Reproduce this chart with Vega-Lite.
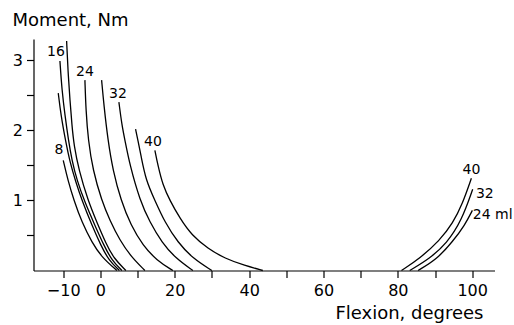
{
  "$schema": "https://vega.github.io/schema/vega-lite/v6.json",
  "width": 461,
  "height": 231.5,
  "autosize": {"type": "none"},
  "padding": {"left": 33.5, "top": 39, "right": 19.5, "bottom": 54.5},
  "background": "white",
  "config": {
    "view": {"stroke": null},
    "font": "DejaVu Sans",
    "axis": {
      "grid": false,
      "domainColor": "black",
      "tickColor": "black",
      "labelColor": "black",
      "titleColor": "black",
      "labelFont": "DejaVu Sans",
      "titleFont": "DejaVu Sans",
      "labelFontSize": 16,
      "titleFontSize": 18,
      "titleFontWeight": "normal",
      "tickSize": 7,
      "domainWidth": 1.2,
      "tickWidth": 1.2
    }
  },
  "datasets": {
    "curves": [
      {"curve": "L8", "x": -10.0, "y": 1.571},
      {"curve": "L8", "x": -8.74, "y": 1.286},
      {"curve": "L8", "x": -7.12, "y": 1.0},
      {"curve": "L8", "x": -4.97, "y": 0.686},
      {"curve": "L8", "x": -2.28, "y": 0.4},
      {"curve": "L8", "x": 0.4, "y": 0.186},
      {"curve": "L8", "x": 4.44, "y": 0},

      {"curve": "L12", "x": -11.34, "y": 2.529},
      {"curve": "L12", "x": -10.62, "y": 2.214},
      {"curve": "L12", "x": -9.41, "y": 1.857},
      {"curve": "L12", "x": -8.2, "y": 1.543},
      {"curve": "L12", "x": -6.59, "y": 1.257},
      {"curve": "L12", "x": -4.97, "y": 1.0},
      {"curve": "L12", "x": -2.28, "y": 0.643},
      {"curve": "L12", "x": 0.13, "y": 0.357},
      {"curve": "L12", "x": 2.28, "y": 0.143},
      {"curve": "L12", "x": 5.11, "y": 0},

      {"curve": "L16", "x": -10.89, "y": 2.986},
      {"curve": "L16", "x": -10.35, "y": 2.571},
      {"curve": "L16", "x": -9.54, "y": 2.214},
      {"curve": "L16", "x": -8.6, "y": 1.857},
      {"curve": "L16", "x": -7.66, "y": 1.571},
      {"curve": "L16", "x": -6.32, "y": 1.286},
      {"curve": "L16", "x": -4.17, "y": 0.971},
      {"curve": "L16", "x": -1.48, "y": 0.643},
      {"curve": "L16", "x": 0.94, "y": 0.357},
      {"curve": "L16", "x": 3.09, "y": 0.143},
      {"curve": "L16", "x": 5.78, "y": 0},

      {"curve": "L20", "x": -9.09, "y": 3.271},
      {"curve": "L20", "x": -8.74, "y": 2.857},
      {"curve": "L20", "x": -8.2, "y": 2.429},
      {"curve": "L20", "x": -7.66, "y": 2.071},
      {"curve": "L20", "x": -7.12, "y": 1.786},
      {"curve": "L20", "x": -5.78, "y": 1.429},
      {"curve": "L20", "x": -3.36, "y": 1.0},
      {"curve": "L20", "x": -0.94, "y": 0.686},
      {"curve": "L20", "x": 1.48, "y": 0.386},
      {"curve": "L20", "x": 3.63, "y": 0.171},
      {"curve": "L20", "x": 6.85, "y": 0},

      {"curve": "L24", "x": -4.17, "y": 2.714},
      {"curve": "L24", "x": -3.9, "y": 2.286},
      {"curve": "L24", "x": -3.28, "y": 1.857},
      {"curve": "L24", "x": -2.02, "y": 1.429},
      {"curve": "L24", "x": 0.32, "y": 1.0},
      {"curve": "L24", "x": 2.55, "y": 0.714},
      {"curve": "L24", "x": 5.24, "y": 0.429},
      {"curve": "L24", "x": 8.2, "y": 0.2},
      {"curve": "L24", "x": 11.96, "y": 0},

      {"curve": "L28", "x": 0.32, "y": 2.714},
      {"curve": "L28", "x": 0.94, "y": 2.357},
      {"curve": "L28", "x": 2.02, "y": 1.857},
      {"curve": "L28", "x": 3.36, "y": 1.429},
      {"curve": "L28", "x": 5.51, "y": 1.0},
      {"curve": "L28", "x": 8.2, "y": 0.643},
      {"curve": "L28", "x": 11.42, "y": 0.357},
      {"curve": "L28", "x": 15.19, "y": 0.143},
      {"curve": "L28", "x": 19.49, "y": 0},

      {"curve": "L32", "x": 4.97, "y": 2.4},
      {"curve": "L32", "x": 5.78, "y": 2.071},
      {"curve": "L32", "x": 6.59, "y": 1.857},
      {"curve": "L32", "x": 7.93, "y": 1.5},
      {"curve": "L32", "x": 10.62, "y": 1.0},
      {"curve": "L32", "x": 13.31, "y": 0.686},
      {"curve": "L32", "x": 16.53, "y": 0.4},
      {"curve": "L32", "x": 20.3, "y": 0.171},
      {"curve": "L32", "x": 24.87, "y": 0},

      {"curve": "L36", "x": 9.46, "y": 2.014},
      {"curve": "L36", "x": 10.08, "y": 1.857},
      {"curve": "L36", "x": 10.89, "y": 1.643},
      {"curve": "L36", "x": 12.23, "y": 1.286},
      {"curve": "L36", "x": 14.65, "y": 1.0},
      {"curve": "L36", "x": 17.34, "y": 0.686},
      {"curve": "L36", "x": 20.83, "y": 0.4},
      {"curve": "L36", "x": 24.87, "y": 0.171},
      {"curve": "L36", "x": 29.97, "y": 0},

      {"curve": "L40", "x": 14.65, "y": 1.714},
      {"curve": "L40", "x": 15.46, "y": 1.5},
      {"curve": "L40", "x": 16.8, "y": 1.214},
      {"curve": "L40", "x": 18.68, "y": 1.0},
      {"curve": "L40", "x": 21.37, "y": 0.743},
      {"curve": "L40", "x": 24.6, "y": 0.5},
      {"curve": "L40", "x": 28.9, "y": 0.314},
      {"curve": "L40", "x": 33.47, "y": 0.171},
      {"curve": "L40", "x": 38.84, "y": 0.071},
      {"curve": "L40", "x": 43.68, "y": 0},

      {"curve": "R40", "x": 80.97, "y": 0},
      {"curve": "R40", "x": 85.89, "y": 0.171},
      {"curve": "R40", "x": 91.26, "y": 0.429},
      {"curve": "R40", "x": 94.76, "y": 0.671},
      {"curve": "R40", "x": 97.45, "y": 0.957},
      {"curve": "R40", "x": 99.78, "y": 1.314},

      {"curve": "R32", "x": 83.2, "y": 0},
      {"curve": "R32", "x": 88.58, "y": 0.171},
      {"curve": "R32", "x": 93.15, "y": 0.386},
      {"curve": "R32", "x": 97.18, "y": 0.714},
      {"curve": "R32", "x": 100.13, "y": 1.157},

      {"curve": "R24", "x": 85.43, "y": 0},
      {"curve": "R24", "x": 90.46, "y": 0.157},
      {"curve": "R24", "x": 94.76, "y": 0.414},
      {"curve": "R24", "x": 97.98, "y": 0.643},
      {"curve": "R24", "x": 100.05, "y": 0.857}
    ],
    "labels": [
      {"text": "8", "x": -11.16, "y": 1.714},
      {"text": "16", "x": -11.96, "y": 3.114},
      {"text": "24", "x": -4.17, "y": 2.829},
      {"text": "32", "x": 4.7, "y": 2.514},
      {"text": "40", "x": 14.11, "y": 1.829},
      {"text": "40", "x": 99.78, "y": 1.429},
      {"text": "32", "x": 103.4, "y": 1.086},
      {"text": "24 ml", "x": 105.5, "y": 0.793}
    ]
  },
  "layer": [
    {
      "data": {"name": "curves"},
      "mark": {"type": "line", "color": "black", "strokeWidth": 1.3, "interpolate": "basis"},
      "encoding": {
        "x": {
          "field": "x", "type": "quantitative",
          "scale": {"domain": [-18, 106], "nice": false, "zero": false},
          "axis": {
            "values": [-10, 0, 10, 20, 30, 40, 50, 60, 70, 80, 90, 100],
            "labelExpr": "(datum.value % 20 == 0 || datum.value == -10) ? format(datum.value, 'd') : ''",
            "labelPadding": 5,
            "title": "Flexion, degrees",
            "titleAlign": "right",
            "titleAnchor": null,
            "titleBaseline": "alphabetic",
            "titleX": 449.5,
            "titleY": 48
          }
        },
        "y": {
          "field": "y", "type": "quantitative",
          "scale": {"domain": [0, 3.3], "nice": false},
          "axis": {
            "values": [0.5, 1, 1.5, 2, 2.5, 3],
            "labelExpr": "datum.value % 1 == 0 ? format(datum.value, 'd') : ''",
            "labelPadding": 4,
            "title": "Moment, Nm",
            "titleAngle": 0,
            "titleAlign": "left",
            "titleBaseline": "alphabetic",
            "titleX": -21.5,
            "titleY": -14
          }
        },
        "detail": {"field": "curve"}
      }
    },
    {
      "data": {"name": "labels"},
      "mark": {"type": "text", "color": "black", "font": "DejaVu Sans", "fontSize": 14, "align": "center", "baseline": "middle"},
      "encoding": {
        "x": {"field": "x", "type": "quantitative"},
        "y": {"field": "y", "type": "quantitative"},
        "text": {"field": "text"}
      }
    }
  ]
}
